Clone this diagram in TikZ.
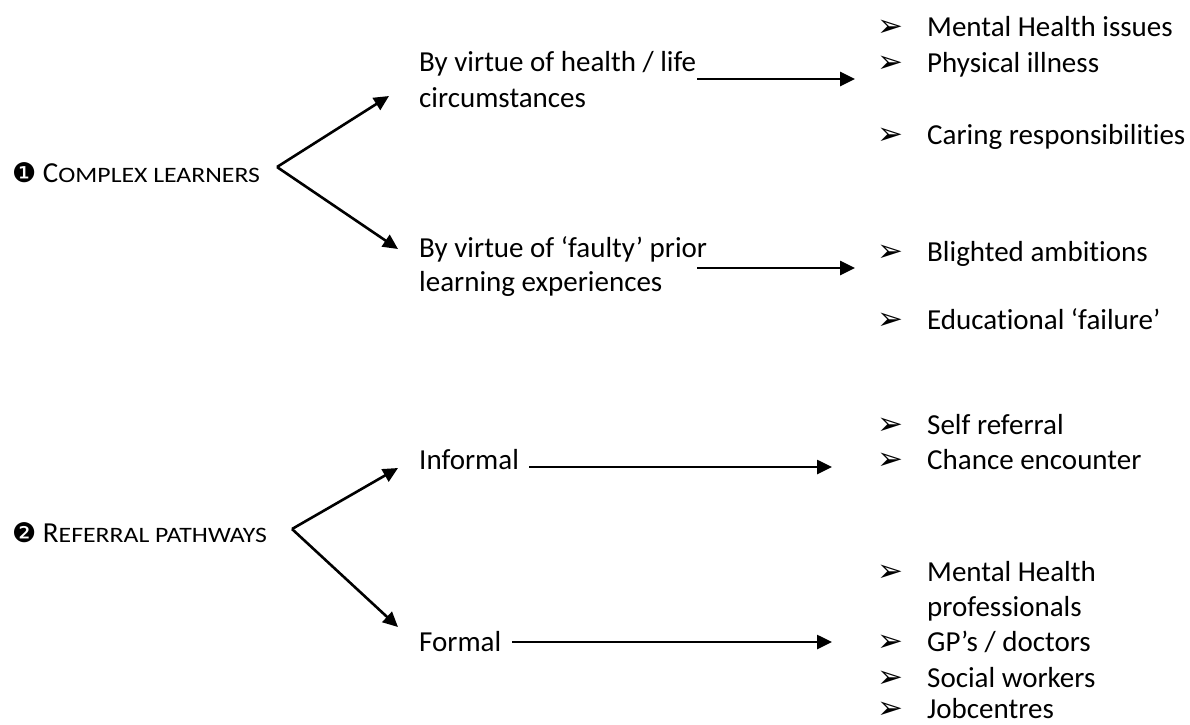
\documentclass[tikz,border=0pt]{standalone}
\usepackage{fontspec}
\usepackage{graphicx}
\setmainfont{Carlito}[Ligatures={NoCommon,TeX}]
\newfontfamily\dejavu{DejaVu Sans}
\usetikzlibrary{arrows.meta}
\tikzset{
  txt/.style={inner sep=0pt, anchor=base west, font=\fontsize{29}{35}\selectfont},
  bul/.style={inner sep=0pt, anchor=base west, font=\dejavu\fontsize{31}{32}\selectfont},
  arr/.style={line width=2.6pt, -{Triangle[length=15pt,width=14pt]}},
}
\newcommand{\smc}[1]{\scalebox{1.17}[1]{\fontsize{22}{26}\selectfont #1}}
\newcommand{\dig}[1]{{\dejavu\fontsize{27}{30}\selectfont #1}}
\begin{document}
\begin{tikzpicture}[x=1pt,y=-1pt]
\useasboundingbox (0,0) rectangle (1190,724);
% left heads
\node[txt] (h1) at (12,182) {\dig{❶} C\smc{OMPLEX LEARNERS}};
\node[txt] (h2) at (12,542) {\dig{❷} R\smc{EFERRAL PATHWAYS}};
% middle texts
\node[txt] (a1) at (419,71) {By virtue of health / life};
\node[txt] (a2) at (419,107) {circumstances};
\node[txt] (b1) at (419,257) {By virtue of ‘faulty’ prior};
\node[txt] (b2) at (419,291) {learning experiences};
\node[txt] (c1) at (419,469) {Informal};
\node[txt] (d1) at (419,651) {Formal};
% chevrons
\coordinate (ap1) at (277,167);
\coordinate (up1) at (389,96);
\coordinate (dn1) at (398,249);
\coordinate (ap2) at (292,529);
\coordinate (up2) at (398,468);
\coordinate (dn2) at (398,627);
\draw[arr] (ap1) -- (up1);
\draw[arr] (ap1) -- (dn1);
\draw[arr] (ap2) -- (up2);
\draw[arr] (ap2) -- (dn2);
% horizontal arrows
\coordinate (s1) at (697,79);  \coordinate (e1) at (855,79);
\coordinate (s2) at (697,268); \coordinate (e2) at (855,268);
\coordinate (s3) at (529,467); \coordinate (e3) at (832,467);
\coordinate (s4) at (512,642); \coordinate (e4) at (832,642);
\draw[arr] (s1) -- (e1);
\draw[arr] (s2) -- (e2);
\draw[arr] (s3) -- (e3);
\draw[arr] (s4) -- (e4);
% bullets and items
\foreach \n/\y/\t in {r1/36/{Mental Health issues}, r2/72/{Physical illness}, r3/144/{Caring responsibilities},
  r4/261/{Blighted ambitions}, r5/329/{Educational ‘failure’}, r6/434/{Self referral}, r7/469/{Chance encounter},
  r8/581/{Mental Health}, r10/651/{GP’s / doctors}, r11/687/{Social workers}, r12/718/{Jobcentres}}{
  \node[bul] (\n b) at (877,\y) {➢};
  \node[txt] (\n) at (927,\y) {\t};
}
\node[txt] (r9) at (927,616) {professionals};
\end{tikzpicture}
\end{document}
